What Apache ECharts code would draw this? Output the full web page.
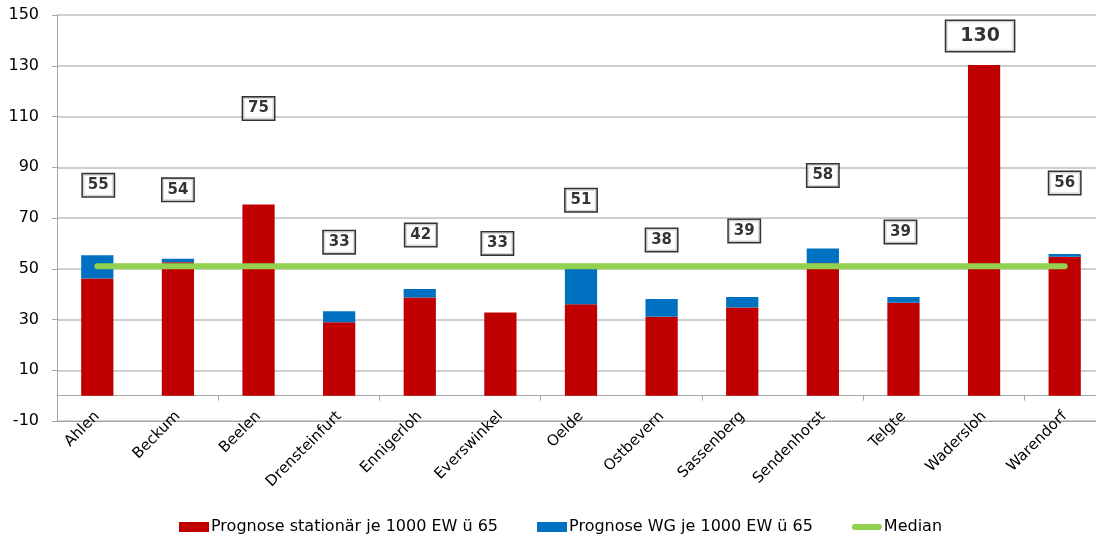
<!DOCTYPE html>
<html>
<head>
<meta charset="utf-8">
<script src="https://cdn.jsdelivr.net/npm/echarts@6/dist/echarts.min.js"></script>
<style>
  html, body { margin: 0; padding: 0; background: #fff; }
  #chart { width: 1096px; height: 537px; }
</style>
</head>
<body>
<div id="chart"></div>
<script>
// Pflegeplätze je 1000 Einwohner über 65 – Kommunen im Kreis Warendorf
const categories = ['Ahlen', 'Beckum', 'Beelen', 'Drensteinfurt', 'Ennigerloh', 'Everswinkel',
  'Oelde', 'Ostbevern', 'Sassenberg', 'Sendenhorst', 'Telgte', 'Wadersloh', 'Warendorf'];
const stationaer = [46.2, 52.6, 75.3, 28.9, 38.7, 32.8, 36.0, 31.1, 34.7, 52.2, 36.6, 130.3, 54.7];
const wg = [9.1, 1.3, 0, 4.4, 3.3, 0, 15.0, 7.0, 4.2, 5.8, 2.3, 0, 1.1];
const medianValue = 51;
const yTicks = [-10, 10, 30, 50, 70, 90, 110, 130, 150];

const seriesNames = ['Prognose stationär je 1000 EW ü 65', 'Prognose WG je 1000 EW ü 65', 'Median'];

// label box offsets in pixels relative to the stack top
const labelShift = [[1, -70], [0, -69], [0, -96], [0, -69], [1, -54], [-3, -69], [0, -66],
  [0, -59], [2, -66], [0, -73], [-3, -65], [-4, -29], [0, -71]];

const totals = stationaer.map((v, i) => v + wg[i]);
const medianLine = categories.map(() => medianValue);

const FONT = 'DejaVu Sans';

const chart = echarts.init(document.getElementById('chart'), null, { renderer: 'canvas' });

chart.setOption({
  animation: false,
  textStyle: { fontFamily: FONT },
  grid: { left: 57, width: 1048, top: 15, bottom: 116, containLabel: false, outerBoundsMode: 'none' },
  legend: {
    data: [
      { name: seriesNames[0], icon: 'rect' },
      { name: seriesNames[1], icon: 'rect' },
      { name: seriesNames[2], icon: 'path://M3,0 H27 A3,3 0 0 1 27,6 H3 A3,3 0 0 1 3,0 Z' }
    ],
    left: 179,
    top: 519,
    padding: 0,
    itemWidth: 30,
    itemHeight: 10,
    itemGap: 39,
    textStyle: { fontFamily: FONT, fontSize: 16, color: '#000', padding: [0, 0, 0, -3] },
    selectedMode: false
  },
  xAxis: [
    {
      type: 'category',
      data: categories,
      position: 'bottom',
      axisLine: { onZero: false, lineStyle: { color: '#a6a6a6', width: 1 } },
      axisTick: { show: false },
      axisLabel: { rotate: 45, fontFamily: FONT, fontSize: 15, color: '#000', margin: -7, interval: 0 },
      splitLine: { show: false }
    },
    {
      type: 'category',
      data: categories,
      position: 'bottom',
      axisLine: { onZero: true, onZeroAxisIndex: 0, lineStyle: { color: '#a6a6a6', width: 1 } },
      axisTick: { show: true, length: 5, lineStyle: { color: '#a6a6a6' } },
      axisLabel: { show: false },
      splitLine: { show: false }
    }
  ],
  yAxis: [
    {
      type: 'value',
      min: yTicks[0],
      max: yTicks[yTicks.length - 1],
      show: false,
      splitLine: { show: false }
    },
    {
      // visible scale: ticks every 20, starting at -10
      type: 'value',
      position: 'left',
      min: 0,
      max: yTicks[yTicks.length - 1] - yTicks[0],
      interval: yTicks[1] - yTicks[0],
      axisLine: { show: true, lineStyle: { color: '#a6a6a6', width: 1 } },
      axisTick: { show: true, length: 5, lineStyle: { color: '#a6a6a6' } },
      axisLabel: {
        fontFamily: FONT, fontSize: 16, color: '#000', margin: 18,
        formatter: v => String(v + yTicks[0])
      },
      splitLine: { show: true, lineStyle: { color: '#bfbfbf', width: 1.5 } }
    }
  ],
  series: [
    {
      name: seriesNames[0],
      type: 'bar',
      stack: 'prognose',
      xAxisIndex: 0,
      yAxisIndex: 0,
      barWidth: '40%',
      itemStyle: { color: '#C00000' },
      data: stationaer
    },
    {
      name: seriesNames[1],
      type: 'bar',
      stack: 'prognose',
      xAxisIndex: 0,
      yAxisIndex: 0,
      barWidth: '40%',
      itemStyle: { color: '#0070C0' },
      data: wg
    },
    {
      name: seriesNames[2],
      type: 'line',
      xAxisIndex: 0,
      yAxisIndex: 0,
      symbol: 'none',
      z: 5,
      lineStyle: { color: '#92D050', width: 6, cap: 'round' },
      itemStyle: { color: '#92D050' },
      data: medianLine
    },
    {
      // boxed totals above each stack
      name: 'Summe',
      type: 'scatter',
      xAxisIndex: 0,
      yAxisIndex: 0,
      symbolSize: 0,
      z: 6,
      silent: true,
      itemStyle: { color: '#000' },
      emphasis: { disabled: true },
      data: totals.map((t, i) => {
        const big = t >= 100;
        return {
          value: t,
          label: {
            offset: labelShift[i],
            fontSize: big ? 19 : 15,
            lineHeight: big ? 22 : 18,
            padding: big ? [4, 14, 4, 14] : [2, 5, 2, 5]
          }
        };
      }),
      label: {
        show: true,
        position: 'top',
        distance: 0,
        align: 'center',
        verticalAlign: 'middle',
        formatter: p => String(Math.round(p.value)),
        fontFamily: FONT,
        fontWeight: 'bold',
        color: '#000',
        backgroundColor: '#fff',
        borderColor: '#000',
        borderWidth: 1.5
      }
    }
  ]
});
</script>
</body>
</html>
